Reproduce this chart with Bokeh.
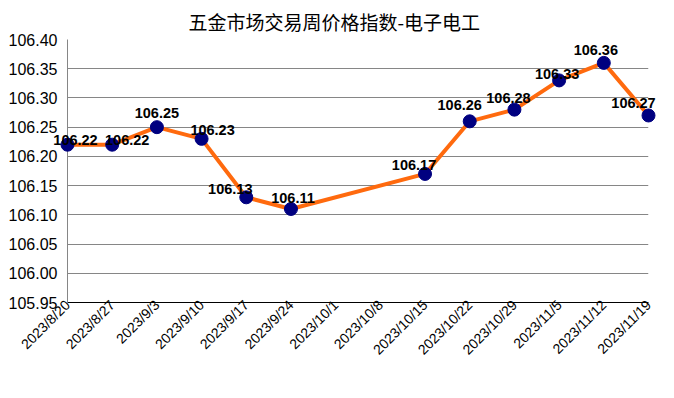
import math
from bokeh.plotting import figure
from bokeh.models import Range1d, FixedTicker, NumeralTickFormatter, ColumnDataSource, Title
from bokeh.embed import file_html
from bokeh.resources import INLINE
from bokeh.core.properties import value

title_text = "五金市场交易周价格指数-电子电工"
dates = ["2023/8/20", "2023/8/27", "2023/9/3", "2023/9/10", "2023/9/17", "2023/9/24",
         "2023/10/1", "2023/10/8", "2023/10/15", "2023/10/22", "2023/10/29",
         "2023/11/5", "2023/11/12", "2023/11/19"]
index_values = [106.22, 106.22, 106.25, 106.23, 106.13, 106.11, None, None,
                106.17, 106.26, 106.28, 106.33, 106.36, 106.27]
y_ticks = [105.95, 106.00, 106.05, 106.10, 106.15, 106.20, 106.25, 106.30, 106.35, 106.40]

# label placement nudges (screen px)
label_dx = [8, 15, 0, 11, -16, 2, 0, 0, -11, -10, -6, -2, -8, -15]
label_dy = [-5, -5, -14, -9, -8, -11, 0, 0, -9, -16, -12, -6, -13, -12]

xs, ys, txt, dxs, dys = [], [], [], [], []
for i, v in enumerate(index_values):
    if v is None:
        continue
    xs.append(i)
    ys.append(v)
    txt.append(f"{v:.2f}")
    dxs.append(label_dx[i])
    dys.append(label_dy[i])

src = ColumnDataSource(dict(x=xs, y=ys, t=txt, dx=dxs, dy=dys))

p = figure(width=658, height=382, output_backend="svg", toolbar_location=None,
           x_range=Range1d(0, len(dates) - 1), y_range=Range1d(y_ticks[0], y_ticks[-1]),
           min_border_left=67, min_border_right=10, min_border_top=38, min_border_bottom=80)
p.title = Title(text=title_text, align="left", offset=121, standoff=10,
                text_font="Noto Sans CJK SC", text_font_size="19px",
                text_font_style="normal", text_color="black")
p.outline_line_color = None
p.background_fill_color = "white"
p.border_fill_color = "white"

p.xgrid.visible = False
p.ygrid.grid_line_color = "#868686"
p.ygrid.grid_line_width = 1

xa = p.xaxis[0]
xa.ticker = FixedTicker(ticks=list(range(len(dates))))
xa.major_label_overrides = {i: d for i, d in enumerate(dates)}
xa.major_label_orientation = math.pi / 4
xa.major_tick_line_color = None
xa.major_tick_out = 0
xa.minor_tick_line_color = None
xa.axis_line_color = "black"
xa.axis_line_width = 1
xa.major_label_text_font = "Liberation Sans"
xa.major_label_text_font_size = "14px"
xa.major_label_text_color = "black"
xa.major_label_standoff = 0

ya = p.yaxis[0]
ya.ticker = FixedTicker(ticks=y_ticks)
ya.formatter = NumeralTickFormatter(format="0.00")
ya.major_tick_line_color = None
ya.major_tick_out = 0
ya.minor_tick_line_color = None
ya.axis_line_color = "#868686"
ya.major_label_text_font = "Liberation Sans"
ya.major_label_text_font_size = "16px"
ya.major_label_text_color = "black"
ya.major_label_standoff = 10

p.line("x", "y", source=src, line_color="#FF6A0E", line_width=4, level="overlay")
p.scatter("x", "y", source=src, size=13, fill_color="#000080", line_color="#000080",
          level="overlay")
p.text("x", "y", text="t", source=src, x_offset="dx", y_offset="dy",
       text_font=value("Liberation Sans"), text_font_style="bold", text_font_size="14.5px",
       text_align="center", text_baseline="alphabetic", text_color="black", level="overlay")

open("out.html", "w").write(file_html(p, INLINE))
